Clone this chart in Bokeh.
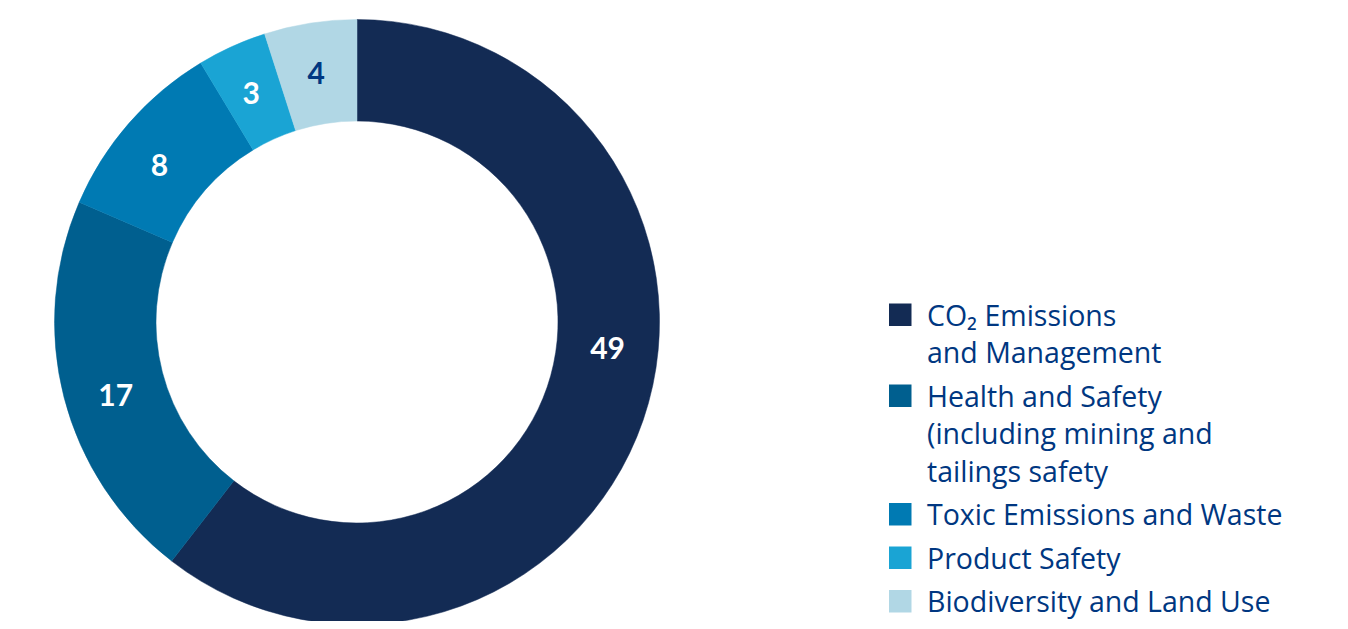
import math
from bokeh.plotting import figure
from bokeh.models import Range1d, ColumnDataSource
from bokeh.core.properties import value
from bokeh.embed import file_html
from bokeh.resources import INLINE

# ---- data ----
categories = [
    "CO₂ Emissions\nand Management",
    "Health and Safety\n(including mining and\ntailings safety",
    "Toxic Emissions and Waste",
    "Product Safety",
    "Biodiversity and Land Use",
]
values = [49, 17, 8, 3, 4]
colors = ["#132B54", "#005F8F", "#007AB3", "#1AA4D4", "#B1D7E5"]
label_colors = ["#FFFFFF", "#FFFFFF", "#FFFFFF", "#FFFFFF", "#003781"]
label_nudge_deg = [12.9, 2.3, 2.7, 0.4, 0.4]

# ---- layout: data units = screen pixels ----
W, H = 1340, 621
def px(x):
    return x
def py(y):
    return H - y

cx, cy = px(356.5), py(321.5)
R_OUT, R_IN, R_LAB = 302.5, 201, 252

p = figure(width=W, height=H, output_backend="svg", toolbar_location=None,
           x_range=Range1d(0, W), y_range=Range1d(0, H), min_border=0)
p.axis.visible = False
p.grid.visible = False
p.outline_line_color = None
p.background_fill_color = "white"
p.border_fill_color = "white"

total = sum(values)
starts, ends, lx, ly = [], [], [], []
cum = 0
for i, v in enumerate(values):
    a0 = math.pi / 2 - 2 * math.pi * cum / total
    cum += v
    a1 = math.pi / 2 - 2 * math.pi * cum / total
    starts.append(a0)
    ends.append(a1)
    mid = (a0 + a1) / 2 + math.radians(label_nudge_deg[i])
    lx.append(cx + R_LAB * math.cos(mid))
    ly.append(cy + R_LAB * math.sin(mid))

src = ColumnDataSource(dict(start=starts, end=ends, color=colors,
                            lx=lx, ly=ly, txt=[str(v) for v in values],
                            tc=label_colors))
p.annular_wedge(x=cx, y=cy, inner_radius=R_IN, outer_radius=R_OUT,
                start_angle="start", end_angle="end", direction="clock",
                fill_color="color", line_color="color", line_width=0.5, source=src)
p.text(x="lx", y="ly", text="txt", text_color="tc", source=src,
       text_font=value("Lato"), text_font_style="bold", text_font_size="30px",
       text_align="center", text_baseline="middle")

# ---- legend ----
SQ = 22.5
LINE_H = 37.5
GAP = 6
BASE_SHIFT = 11  # compensates the renderer's baseline offset
top = 303
sq_x, sq_y, sq_c = [], [], []
t_x, t_y, t_t = [], [], []
for name, c in zip(categories, colors):
    lines = name.split("\n")
    sq_x.append(px(888.5 + SQ / 2))
    sq_y.append(py(top + SQ / 2))
    sq_c.append(c)
    for j, ln in enumerate(lines):
        t_x.append(px(926.5))
        t_y.append(py(top + 22 - BASE_SHIFT + j * LINE_H))
        t_t.append(ln)
    top += len(lines) * LINE_H + GAP

p.rect(x=sq_x, y=sq_y, width=SQ, height=SQ, fill_color=sq_c, line_color=None)
p.text(x=t_x, y=t_y, text=t_t, text_color="#003781",
       text_font=value("Open Sans"), text_font_size="28.5px",
       text_align="left", text_baseline="alphabetic")

open("out.html", "w").write(file_html(p, INLINE))
